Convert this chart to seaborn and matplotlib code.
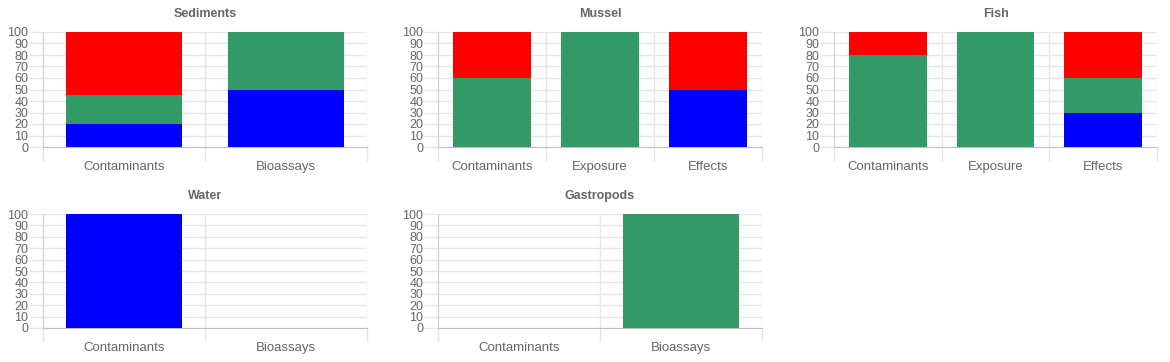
import numpy as np
import matplotlib
matplotlib.use('agg')
import matplotlib.pyplot as plt
import seaborn as sns

# data (percent per category) #
sed_cats = ["Contaminants", "Bioassays"]
sed_blue = [20, 50]
sed_green = [25, 50]
sed_red = [55, 0]

mus_cats = ["Contaminants", "Exposure", "Effects"]
mus_blue = [0, 0, 50]
mus_green = [60, 100, 0]
mus_red = [40, 0, 50]

fish_cats = ["Contaminants", "Exposure", "Effects"]
fish_blue = [0, 0, 30]
fish_green = [80, 100, 30]
fish_red = [20, 0, 40]

wat_cats = ["Contaminants", "Bioassays"]
wat_blue = [100, 0]
wat_green = [0, 0]
wat_red = [0, 0]

gas_cats = ["Contaminants", "Bioassays"]
gas_blue = [0, 0]
gas_green = [0, 100]
gas_red = [0, 0]

BLUE = "#0000ff"
GREEN = "#339966"
RED = "#ff0000"
GRID = "#e6e6e6"
TXT = "#666666"

sns.set_style("white")
plt.rcParams['font.family'] = ['Liberation Sans', 'DejaVu Sans']

W, H = 1170, 362
fig = plt.figure(figsize=(W/100, H/100), dpi=100)

def px_axes(x0, y0, x1, y1):
    return fig.add_axes([x0/W, 1 - y1/H, (x1-x0)/W, (y1-y0)/H])

def panel(ax, title, cats, blue, green, red):
    blue = np.array(blue)
    green = np.array(green)
    red = np.array(red)
    n = len(cats)
    # stacked: draw cumulative totals back to front
    sns.barplot(x=cats, y=blue+green+red, color=RED, saturation=1, width=0.72, linewidth=0, ax=ax, zorder=3)
    sns.barplot(x=cats, y=blue+green, color=GREEN, saturation=1, width=0.72, linewidth=0, ax=ax, zorder=3)
    sns.barplot(x=cats, y=blue, color=BLUE, saturation=1, width=0.72, linewidth=0, ax=ax, zorder=3)
    ax.set_xlim(-0.5, n-0.5)
    ax.set_ylim(0, 100)
    ax.set_yticks(np.arange(0, 101, 10))
    ax.set_xticks(np.arange(n+1) - 0.5)
    ax.set_xticklabels([])
    ax.set_xticks(np.arange(n), minor=True)
    ax.set_xticklabels(cats, minor=True)
    ax.tick_params(axis='x', which='major', bottom=True, length=10, width=1, color=GRID)
    ax.tick_params(axis='x', which='minor', bottom=True, length=0, pad=10, labelsize=9.5, labelcolor=TXT)
    ax.tick_params(axis='y', left=True, length=10, width=1, color=GRID, pad=0.5, labelsize=9, labelcolor=TXT)
    ax.grid(True, which='major', color=GRID, linewidth=1, zorder=0)
    ax.set_axisbelow(True)
    for s in ['top', 'right']:
        ax.spines[s].set_visible(False)
    ax.spines['left'].set_color("#d0d0d0")
    ax.spines['bottom'].set_color("#bfbfbf")
    ax.set_xlabel("")
    ax.set_ylabel("")
    ax.set_title(title, fontsize=9, fontweight='bold', color=TXT, pad=11)

panel(px_axes(43, 32, 367, 147), "Sediments", sed_cats, sed_blue, sed_green, sed_red)
panel(px_axes(438, 32, 762, 147), "Mussel", mus_cats, mus_blue, mus_green, mus_red)
panel(px_axes(834, 32, 1157, 147), "Fish", fish_cats, fish_blue, fish_green, fish_red)
panel(px_axes(43, 214, 367, 328), "Water", wat_cats, wat_blue, wat_green, wat_red)
panel(px_axes(438, 214, 762, 328), "Gastropods", gas_cats, gas_blue, gas_green, gas_red)

plt.savefig("out.png", dpi=100)
plt.close()
